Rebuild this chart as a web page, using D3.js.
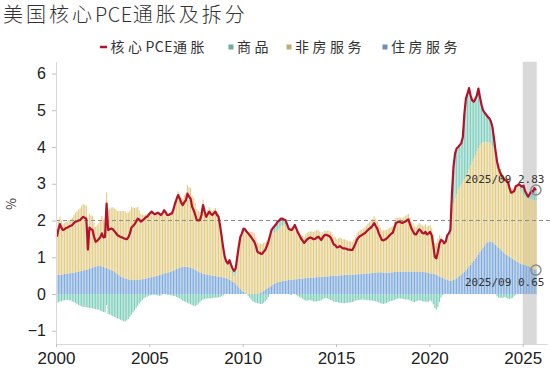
<!DOCTYPE html>
<html>
<meta charset="utf-8">
<style>
  body { margin: 0; background: #fff; }
</style>
<body>
<div id="chart"></div>
<script src="https://cdn.jsdelivr.net/npm/d3@7/dist/d3.min.js"></script>
<script>
"use strict";

// monthly data, 2000/01 .. 2025/09, YoY % and contributions in pp
var startYear = 2000;

var corePce = [
  1.56,1.75,1.90,1.80,1.74,1.76,1.80,1.81,1.84,1.86,1.88,1.93, // 2000
  1.97,1.98,2.00,2.01,2.06,2.10,2.07,2.05,1.21,1.81,1.76,1.74, // 2001
  1.55,1.42,1.45,1.49,1.55,1.65,1.54,1.55,2.46,1.74,1.76,1.78, // 2002
  1.76,1.71,1.66,1.60,1.58,1.55,1.54,1.52,1.50,1.49,1.54,1.65, // 2003
  1.81,1.85,1.90,1.97,2.05,2.02,1.97,2.00,2.03,2.08,2.10,2.15, // 2004
  2.20,2.24,2.20,2.17,2.19,2.21,2.18,2.15,2.20,2.28,2.22,2.15, // 2005
  2.15,2.18,2.19,2.30,2.46,2.58,2.69,2.60,2.48,2.42,2.50,2.55, // 2006
  2.73,2.65,2.60,2.37,2.28,2.15,2.01,2.00,2.01,2.15,2.42,2.25, // 2007
  2.10,2.17,2.24,2.18,2.15,2.20,2.24,2.15,2.10,1.85,1.56,1.25, // 2008
  1.01,0.88,0.83,0.92,0.80,0.69,0.63,0.70,1.01,1.30,1.55,1.65, // 2009
  1.78,1.76,1.70,1.65,1.60,1.54,1.48,1.42,1.30,1.15,1.12,1.10, // 2010
  1.09,1.15,1.20,1.30,1.42,1.58,1.74,1.80,1.85,1.90,1.97,2.00, // 2011
  2.05,2.05,2.03,2.01,1.90,1.78,1.75,1.74,1.80,1.88,1.78,1.67, // 2012
  1.60,1.51,1.45,1.39,1.44,1.49,1.52,1.54,1.52,1.49,1.50,1.53, // 2013
  1.56,1.52,1.47,1.54,1.60,1.61,1.60,1.58,1.54,1.45,1.35,1.33, // 2014
  1.27,1.28,1.30,1.27,1.24,1.24,1.23,1.21,1.21,1.20,1.20,1.28, // 2015
  1.37,1.48,1.54,1.58,1.60,1.63,1.65,1.70,1.74,1.78,1.81,1.86, // 2016
  1.93,1.85,1.78,1.65,1.56,1.47,1.46,1.48,1.51,1.55,1.60,1.64, // 2017
  1.67,1.80,1.93,1.95,1.97,1.95,1.93,1.95,1.97,2.00,2.03,1.90, // 2018
  1.78,1.70,1.63,1.62,1.70,1.76,1.72,1.66,1.65,1.69,1.62,1.65, // 2019
  1.69,1.60,1.33,1.01,0.97,1.15,1.38,1.47,1.45,1.38,1.42,1.60, // 2020
  1.65,1.74,2.73,3.46,3.82,3.96,4.00,4.05,4.10,4.27,4.90,5.32, // 2021
  5.45,5.60,5.40,5.27,5.23,5.30,5.40,5.59,5.36,5.15,5.00,4.93, // 2022
  4.88,4.82,4.78,4.70,4.55,4.25,3.90,3.60,3.42,3.30,3.22,3.15, // 2023
  3.10,3.08,3.05,2.88,2.76,2.77,2.80,2.93,2.95,2.99,2.95,2.92, // 2024
  2.95,2.80,2.72,2.65,2.72,2.80,2.78,2.88,2.83                 // 2025
];

var goods = [
  -0.25,-0.22,-0.20,-0.20,-0.18,-0.17,-0.16,-0.16,-0.17,-0.18,-0.20,-0.22,
  -0.24,-0.27,-0.30,-0.32,-0.34,-0.35,-0.35,-0.36,-0.37,-0.38,-0.38,-0.39,
  -0.40,-0.41,-0.42,-0.43,-0.45,-0.47,-0.49,-0.50,-0.30,-0.54,-0.56,-0.58,
  -0.60,-0.62,-0.64,-0.66,-0.68,-0.70,-0.72,-0.74,-0.75,-0.72,-0.68,-0.62,
  -0.56,-0.50,-0.44,-0.38,-0.32,-0.26,-0.21,-0.16,-0.12,-0.09,-0.07,-0.05,
  -0.04,-0.03,-0.02,-0.02,-0.03,-0.04,-0.05,-0.04,0.02,0.03,0.00,-0.02,
  -0.02,-0.03,-0.04,-0.05,-0.06,-0.08,-0.10,-0.12,-0.15,-0.18,-0.20,-0.22,
  -0.24,-0.26,-0.28,-0.30,-0.32,-0.33,-0.30,-0.26,-0.22,-0.18,-0.15,-0.14,
  -0.13,-0.12,-0.12,-0.12,-0.11,-0.10,-0.10,-0.10,-0.09,-0.08,-0.06,-0.04,
  0.00,0.02,0.04,0.06,0.08,0.12,0.15,0.14,0.12,0.10,0.08,0.08,
  0.06,0.03,0.00,-0.05,-0.10,-0.15,-0.20,-0.22,-0.24,-0.25,-0.26,-0.27,
  -0.27,-0.24,-0.20,-0.15,-0.08,0.00,0.08,0.14,0.18,0.20,0.22,0.22,
  0.20,0.18,0.15,0.12,0.06,0.00,-0.02,-0.02,0.00,0.01,-0.03,-0.06,
  -0.08,-0.10,-0.13,-0.16,-0.18,-0.18,-0.17,-0.17,-0.18,-0.20,-0.21,-0.20,
  -0.19,-0.18,-0.17,-0.14,-0.12,-0.11,-0.12,-0.14,-0.16,-0.18,-0.20,-0.22,
  -0.22,-0.23,-0.24,-0.24,-0.25,-0.25,-0.24,-0.24,-0.23,-0.23,-0.22,-0.20,
  -0.18,-0.17,-0.16,-0.16,-0.15,-0.15,-0.16,-0.16,-0.17,-0.17,-0.18,-0.18,
  -0.19,-0.20,-0.21,-0.23,-0.25,-0.26,-0.27,-0.26,-0.24,-0.22,-0.20,-0.19,
  -0.18,-0.16,-0.14,-0.13,-0.12,-0.12,-0.13,-0.14,-0.15,-0.15,-0.15,-0.17,
  -0.19,-0.21,-0.22,-0.20,-0.18,-0.17,-0.18,-0.20,-0.21,-0.20,-0.22,-0.21,
  -0.18,-0.20,-0.28,-0.38,-0.42,-0.35,-0.22,-0.10,-0.02,0.02,0.04,0.06,
  0.10,0.14,0.53,1.00,1.22,1.24,1.15,1.13,1.12,1.22,1.78,2.12,
  2.17,2.22,1.90,1.67,1.54,1.52,1.52,1.62,1.31,1.05,0.87,0.79,
  0.74,0.69,0.66,0.60,0.53,0.30,0.05,-0.06,-0.10,-0.10,-0.10,-0.10,
  -0.08,-0.10,-0.12,-0.14,-0.12,-0.10,-0.06,-0.02,0.02,0.06,0.10,0.14,
  0.25,0.14,0.09,0.05,0.12,0.21,0.21,0.32,0.28
];

var nonHousing = [
  1.29,1.45,1.57,1.47,1.38,1.38,1.41,1.41,1.45,1.47,1.51,1.57,
  1.62,1.65,1.69,1.71,1.77,1.81,1.77,1.75,0.91,1.51,1.44,1.41,
  1.21,1.08,1.11,1.16,1.24,1.37,1.29,1.33,2.05,1.59,1.65,1.71,
  1.73,1.73,1.73,1.72,1.75,1.77,1.80,1.82,1.83,1.80,1.82,1.88,
  1.99,1.97,1.96,1.97,1.98,1.89,1.78,1.76,1.74,1.75,1.74,1.76,
  1.79,1.81,1.75,1.71,1.73,1.75,1.71,1.66,1.64,1.69,1.65,1.59,
  1.58,1.61,1.61,1.71,1.86,1.98,2.09,2.00,1.90,1.86,1.96,2.03,
  2.23,2.18,2.16,1.97,1.92,1.82,1.68,1.65,1.64,1.76,2.02,1.85,
  1.70,1.77,1.84,1.79,1.76,1.81,1.85,1.77,1.72,1.46,1.16,0.84,
  0.57,0.43,0.38,0.47,0.35,0.23,0.17,0.29,0.66,1.02,1.34,1.48,
  1.66,1.70,1.69,1.70,1.70,1.69,1.68,1.64,1.53,1.39,1.36,1.34,
  1.31,1.31,1.29,1.31,1.33,1.38,1.43,1.40,1.39,1.40,1.43,1.45,
  1.51,1.52,1.52,1.53,1.47,1.40,1.39,1.37,1.41,1.47,1.41,1.32,
  1.27,1.19,1.16,1.12,1.19,1.23,1.25,1.27,1.25,1.24,1.26,1.27,
  1.29,1.24,1.17,1.21,1.25,1.24,1.24,1.24,1.21,1.14,1.06,1.05,
  0.99,1.01,1.03,1.00,0.98,0.97,0.95,0.93,0.92,0.90,0.89,0.95,
  1.02,1.11,1.16,1.20,1.20,1.23,1.26,1.30,1.35,1.39,1.42,1.47,
  1.54,1.47,1.40,1.29,1.22,1.14,1.15,1.16,1.17,1.19,1.22,1.24,
  1.26,1.36,1.47,1.48,1.49,1.46,1.45,1.48,1.51,1.54,1.57,1.46,
  1.36,1.30,1.24,1.21,1.27,1.32,1.30,1.26,1.26,1.30,1.25,1.28,
  1.31,1.24,1.06,0.85,0.87,1.00,1.12,1.11,1.03,0.94,0.98,1.16,
  1.18,1.24,1.83,2.08,2.20,2.29,2.39,2.42,2.45,2.48,2.51,2.55,
  2.58,2.63,2.70,2.75,2.79,2.82,2.86,2.89,2.91,2.90,2.87,2.82,
  2.76,2.72,2.69,2.67,2.61,2.57,2.51,2.36,2.26,2.18,2.14,2.11,
  2.08,2.11,2.13,2.00,1.89,1.91,1.93,2.05,2.06,2.08,2.02,1.97,
  1.90,1.87,1.86,1.84,1.86,1.87,1.87,1.89,1.90
];

var housing = [
  0.52,0.52,0.53,0.53,0.54,0.55,0.55,0.56,0.56,0.57,0.57,0.58,
  0.59,0.60,0.61,0.62,0.63,0.64,0.65,0.66,0.67,0.68,0.70,0.72,
  0.74,0.75,0.76,0.76,0.76,0.75,0.74,0.72,0.71,0.69,0.67,0.65,
  0.63,0.60,0.57,0.54,0.51,0.48,0.46,0.44,0.42,0.41,0.40,0.39,
  0.38,0.38,0.38,0.38,0.39,0.39,0.40,0.40,0.41,0.42,0.43,0.44,
  0.45,0.46,0.47,0.48,0.49,0.50,0.52,0.53,0.54,0.56,0.57,0.58,
  0.59,0.60,0.62,0.64,0.66,0.68,0.70,0.72,0.73,0.74,0.74,0.74,
  0.74,0.73,0.72,0.70,0.68,0.66,0.63,0.61,0.59,0.57,0.55,0.54,
  0.53,0.52,0.52,0.51,0.50,0.49,0.49,0.48,0.47,0.47,0.46,0.45,
  0.44,0.43,0.41,0.39,0.37,0.34,0.31,0.27,0.23,0.18,0.13,0.09,
  0.06,0.03,0.01,0.00,0.00,0.00,0.00,0.00,0.01,0.01,0.02,0.03,
  0.05,0.08,0.11,0.14,0.17,0.20,0.23,0.26,0.28,0.30,0.32,0.33,
  0.34,0.35,0.36,0.36,0.37,0.38,0.38,0.39,0.39,0.40,0.40,0.41,
  0.41,0.42,0.42,0.43,0.43,0.44,0.44,0.44,0.45,0.45,0.45,0.46,
  0.46,0.46,0.47,0.47,0.47,0.48,0.48,0.48,0.49,0.49,0.49,0.50,
  0.50,0.50,0.51,0.51,0.51,0.52,0.52,0.52,0.52,0.53,0.53,0.53,
  0.53,0.54,0.54,0.54,0.55,0.55,0.55,0.56,0.56,0.56,0.57,0.57,
  0.58,0.58,0.59,0.59,0.59,0.59,0.58,0.58,0.58,0.58,0.58,0.59,
  0.59,0.60,0.60,0.60,0.60,0.61,0.61,0.61,0.61,0.61,0.61,0.61,
  0.61,0.61,0.61,0.61,0.61,0.61,0.60,0.60,0.60,0.59,0.59,0.58,
  0.56,0.56,0.55,0.54,0.52,0.50,0.48,0.46,0.44,0.42,0.40,0.38,
  0.37,0.36,0.37,0.38,0.40,0.43,0.46,0.50,0.53,0.57,0.61,0.65,
  0.70,0.75,0.80,0.85,0.90,0.96,1.02,1.08,1.14,1.20,1.26,1.32,
  1.38,1.41,1.43,1.43,1.41,1.38,1.34,1.30,1.26,1.22,1.18,1.14,
  1.10,1.07,1.04,1.02,0.99,0.96,0.93,0.90,0.87,0.85,0.83,0.81,
  0.80,0.79,0.77,0.76,0.74,0.72,0.70,0.67,0.65
];

var yTicks = [-1, 0, 1, 2, 3, 4, 5, 6];
var xTicks = [2000, 2005, 2010, 2015, 2020, 2025];
var legendNames = ["核心PCE通胀", "商品", "非房服务", "住房服务"];
var titleText = "美国核心PCE通胀及拆分";
var lastLabel = "2025/09";
var shadeYear = 2025; // the shaded year

// colours
var lineColor = "#b3122c";
var goodsColor = "#80cfbd", nonHousingColor = "#e3cd86", housingColor = "#80abdc";

var W = 550, H = 369;
var svg = d3.select("#chart").append("svg")
    .attr("width", W).attr("height", H)
    .style("font-family", "'Noto Sans CJK SC', 'Noto Sans', sans-serif");

var x = d3.scaleLinear().domain([2000, 2026.3]).range([56, 547]);
var y = d3.scaleLinear().domain([-1.36, 6.32]).range([344, 61.7]);

// one row per month, t = start of month as fractional year
var rows = corePce.map(function (c, i) {
  return { t: startYear + i / 12, core: c, goods: goods[i], nonHousing: nonHousing[i], housing: housing[i] };
});

// CJK chars get wide spacing, latin runs (PCE) stay tight
function spacedText(sel, str, cjkSpacing) {
  str.split(/([A-Za-z]+)/).forEach(function (part) {
    if (!part) return;
    sel.append("tspan")
        .style("letter-spacing", /[A-Za-z]/.test(part) ? "0.5px" : cjkSpacing + "px")
        .text(part);
  });
}

// title
var title = svg.append("text")
    .attr("x", 3).attr("y", 22)
    .style("font-size", "20px")
    .style("font-weight", "300")
    .style("fill", "#333");
spacedText(title, titleText, 3);

// legend
var legend = svg.append("g").style("font-size", "14px").style("fill", "#333");
legend.append("line").attr("x1", 100).attr("x2", 107).attr("y1", 47).attr("y2", 47)
    .attr("stroke", lineColor).attr("stroke-width", 2.5);
var legendItems = [
  { sw: null, x: 110.5 },
  { sw: goodsColor, x: 237 },
  { sw: nonHousingColor, x: 295 },
  { sw: housingColor, x: 391 }
];
legendItems.forEach(function (d, i) {
  if (d.sw) {
    legend.append("rect").attr("x", d.x - 8.5).attr("y", 44.5).attr("width", 5).attr("height", 5)
        .attr("fill", d3.color(d.sw).darker(0.5));
  }
  var t = legend.append("text").attr("x", d.x).attr("y", 52);
  spacedText(t, legendNames[i], 3.5);
});

// shaded band for the latest year
svg.append("rect")
    .attr("x", x(shadeYear)).attr("width", x(shadeYear + 0.75) - x(shadeYear))
    .attr("y", 61.7).attr("height", 344 - 61.7)
    .attr("fill", "#d9d9d9");

// stacked bars
var stack = d3.stack().keys(["housing", "nonHousing", "goods"]).offset(d3.stackOffsetDiverging);
var layers = stack(rows);
var colorOf = { housing: housingColor, nonHousing: nonHousingColor, goods: goodsColor };
var step = x(startYear + 1 / 12) - x(startYear);

svg.append("g").selectAll("g")
    .data(layers)
    .enter().append("g")
    .attr("fill", function (l) { return colorOf[l.key]; })
    .selectAll("rect")
    .data(function (l) { return l; })
    .enter().append("rect")
    .attr("x", function (d) { return x(d.data.t) + 0.2; })
    .attr("width", step * 0.72)
    .attr("y", function (d) { return y(Math.max(d[0], d[1])); })
    .attr("height", function (d) { return Math.abs(y(d[0]) - y(d[1])); });

// 2% reference line
svg.append("line")
    .attr("x1", 56).attr("x2", 550)
    .attr("y1", y(2)).attr("y2", y(2))
    .attr("stroke", "#8c8c8c").attr("stroke-width", 1.2)
    .attr("stroke-dasharray", "4,3");

// core PCE line
var line = d3.line()
    .x(function (d) { return x(d.t + 1 / 24); })
    .y(function (d) { return y(d.core); });
svg.append("path")
    .datum(rows)
    .attr("d", line)
    .attr("fill", "none")
    .attr("stroke", lineColor)
    .attr("stroke-width", 2.2)
    .attr("stroke-linejoin", "round");

// axes
var yAxis = svg.append("g")
    .attr("transform", "translate(56,0)")
    .call(d3.axisLeft(y).tickValues(yTicks).tickFormat(d3.format("d")).tickSize(4).tickSizeOuter(0).tickPadding(6));
yAxis.select(".domain").attr("stroke", "#d9d9d9");
yAxis.selectAll(".tick line").attr("stroke", "#bfbfbf");
yAxis.selectAll("text")
    .style("font-family", "'Liberation Sans', Arial, sans-serif")
    .style("font-size", "16px").style("fill", "#222");

var xAxis = svg.append("g")
    .attr("transform", "translate(0,344)")
    .call(d3.axisBottom(x).tickValues(xTicks).tickFormat(d3.format("d")).tickSize(3).tickSizeOuter(0).tickPadding(5));
xAxis.select(".domain").attr("stroke", "#d9d9d9");
xAxis.selectAll(".tick line").attr("stroke", "#bfbfbf");
xAxis.selectAll("text")
    .style("font-family", "'Liberation Sans', Arial, sans-serif")
    .style("font-size", "17px").style("fill", "#222");

// y title
svg.append("text")
    .attr("transform", "translate(16,204) rotate(-90)")
    .attr("text-anchor", "middle")
    .style("font-size", "13px").style("fill", "#333")
    .text("%");

// latest value markers
var last = rows[rows.length - 1];
var marks = [
  { v: last.core, ty: 182.5 },
  { v: last.housing, ty: 286 }
];
marks.forEach(function (m) {
  svg.append("circle")
      .attr("cx", x(last.t + 1 / 24)).attr("cy", y(m.v)).attr("r", 5)
      .attr("fill", "none").attr("stroke", "#8c8c8c").attr("stroke-width", 1.5);
  svg.append("text")
      .attr("x", 465).attr("y", m.ty)
      .style("font-family", "'DejaVu Sans Mono', monospace")
      .style("font-size", "11px").style("fill", "#333")
      .text(lastLabel + " " + m.v.toFixed(2));
});
</script>
</body>
</html>
